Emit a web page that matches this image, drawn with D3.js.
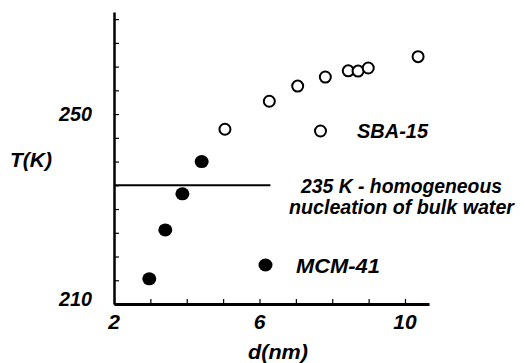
<!DOCTYPE html>
<html><head><meta charset="utf-8">
<script src="https://cdn.jsdelivr.net/npm/d3@7/dist/d3.min.js"></script>
<style>
html,body{margin:0;padding:0;background:#fff;}
svg{display:block;}
</style></head>
<body>
<svg id="chart" width="525" height="363"></svg>
<script>
// Data
const mcmD = [2.97, 3.41, 3.88, 4.41];
const mcmT = [215.3, 225.6, 233.2, 240.0];
const sbaD = [5.05, 6.27, 7.05, 7.81, 8.44, 8.71, 8.99, 10.36];
const sbaT = [246.8, 252.7, 255.9, 257.8, 259.1, 259.05, 259.7, 262.1];
const homogeneousT = 235;
const xTickValues = [2, 3, 4, 5, 6, 7, 8, 9, 10];
const xTickLabels = [2, 6, 10];
const yTickValues = [210, 215, 220, 225, 230, 235, 240, 245, 250, 255, 260, 265, 270];
const yTickLabels = [210, 250];

const FONT = "'Liberation Sans', Arial, sans-serif";
const FS = 21;
const svg = d3.select("#chart");
const x = d3.scaleLinear().domain([2, 10.66]).range([114, 429]);
const y = d3.scaleLinear().domain([210, 271.5]).range([304, 12]);

function txt(sel) {
  return sel.attr("font-family", FONT).attr("font-weight", "bold").attr("font-style", "italic")
    .attr("font-size", FS).attr("fill", "#000");
}
function stretch(sel, len) {
  return sel.attr("textLength", len).attr("lengthAdjust", "spacingAndGlyphs");
}

// axes
const yAxis = d3.axisRight(y).tickValues(yTickValues).tickSize(5).tickFormat("").tickSizeOuter(0);
const gy = svg.append("g").attr("transform", `translate(${x(2)},0)`).call(yAxis);
gy.select(".domain").attr("stroke", "#000").attr("stroke-width", 2.5);
gy.selectAll(".tick line").attr("stroke", "#000").attr("stroke-width", 1.2);

const xAxis = d3.axisTop(x).tickValues(xTickValues).tickSize(5).tickFormat("").tickSizeOuter(0);
const gx = svg.append("g").attr("transform", `translate(0,${y(210)})`).call(xAxis);
gx.select(".domain").attr("stroke", "#000").attr("stroke-width", 2.8);
gx.selectAll(".tick line").attr("stroke", "#000").attr("stroke-width", 1.2);

// tick labels
txt(svg.selectAll(".xl").data(xTickLabels).enter().append("text")
  .attr("x", d => x(d)).attr("y", 329).attr("text-anchor", "middle").text(d => d));
txt(svg.selectAll(".yl").data(yTickLabels).enter().append("text")
  .attr("x", 92).attr("y", d => y(d) + (d === 210 ? 2 : 7)).attr("text-anchor", "end")
  .text(d => d)).each(function () { stretch(d3.select(this), 33); });

// axis titles
stretch(txt(svg.append("text").attr("x", 248).attr("y", 359).text("d(nm)")), 60);
stretch(txt(svg.append("text").attr("x", 10).attr("y", 167).text("T(K)")), 42);

// homogeneous nucleation line
svg.append("line").attr("x1", x(2)).attr("x2", x(6.3))
  .attr("y1", y(homogeneousT)).attr("y2", y(homogeneousT))
  .attr("stroke", "#000").attr("stroke-width", 2);

// MCM-41 filled
svg.selectAll(".mcm").data(mcmD).enter().append("ellipse")
  .attr("cx", d => x(d)).attr("cy", (d, i) => y(mcmT[i]))
  .attr("rx", 7).attr("ry", 6.5).attr("fill", "#000");

// SBA-15 open
svg.selectAll(".sba").data(sbaD).enter().append("circle")
  .attr("cx", d => x(d)).attr("cy", (d, i) => y(sbaT[i]))
  .attr("r", 5.5).attr("fill", "#fff").attr("stroke", "#000").attr("stroke-width", 2);

// legend
svg.append("circle").attr("cx", 320.5).attr("cy", 131).attr("r", 5.5)
  .attr("fill", "#fff").attr("stroke", "#000").attr("stroke-width", 2);
stretch(txt(svg.append("text").attr("x", 357).attr("y", 138).text("SBA-15")), 71);

stretch(txt(svg.append("text").attr("x", 301).attr("y", 193).text("235 K - homogeneous")), 201);
stretch(txt(svg.append("text").attr("x", 289).attr("y", 214).text("nucleation of bulk water")), 225);

svg.append("ellipse").attr("cx", 265.5).attr("cy", 265).attr("rx", 7).attr("ry", 6.5).attr("fill", "#000");
stretch(txt(svg.append("text").attr("x", 296).attr("y", 273).text("MCM-41")), 84);
</script>
</body></html>
